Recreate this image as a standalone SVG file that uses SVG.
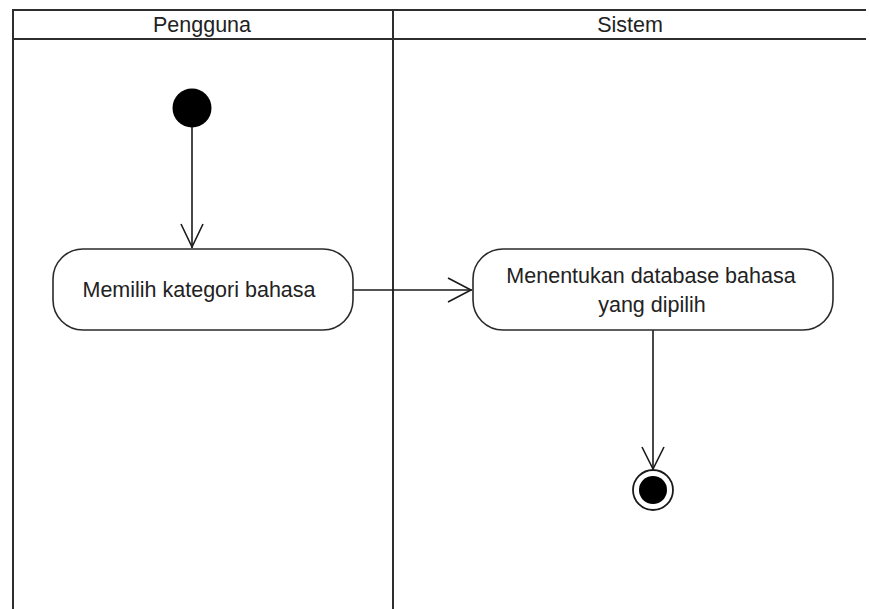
<svg xmlns="http://www.w3.org/2000/svg" width="870" height="609" viewBox="0 0 870 609">
  <style>
    .lane { fill: none; stroke: #2e2e2e; stroke-width: 2; }
    .action { fill: #ffffff; stroke: #2a2a2a; stroke-width: 1.6; }
    .label { font-family: "Liberation Sans", Arial, sans-serif; font-size: 21.5px; fill: #222222; text-anchor: middle; }
    .flow { fill: none; stroke: #1a1a1a; stroke-width: 1.6; }
    .head { fill: none; stroke: #1a1a1a; stroke-width: 1.6; stroke-linejoin: miter; }
  </style>
  <rect x="0" y="0" width="870" height="609" fill="#ffffff"/>

  <!-- swimlane frame -->
  <g id="swimlanes">
    <line class="lane" x1="13" y1="10" x2="866" y2="10"/>
    <line class="lane" x1="13" y1="39" x2="866" y2="39"/>
    <line class="lane" x1="13" y1="9" x2="13" y2="609"/>
    <line class="lane" x1="393" y1="10" x2="393" y2="609"/>
    <text class="label" x="202" y="32">Pengguna</text>
    <text class="label" x="630" y="32">Sistem</text>
  </g>

  <!-- connectors -->
  <g id="connectors">
    <line class="flow" x1="192" y1="127" x2="192" y2="248"/>
    <polyline class="head" points="181,224 192,247 203,224"/>
    <line class="flow" x1="353" y1="290" x2="472" y2="290"/>
    <polyline class="head" points="448,278 471,290 448,302"/>
    <line class="flow" x1="653" y1="330" x2="653" y2="469"/>
    <polyline class="head" points="642,447 653,469 664,447"/>
  </g>

  <g id="start">
    <circle cx="192" cy="108" r="19.5" fill="#000000"/>
  </g>

  <g id="memilih-kategori">
    <rect class="action" x="53" y="249" width="300" height="81" rx="30" ry="30"/>
    <text class="label" x="199" y="297">Memilih kategori bahasa</text>
  </g>

  <g id="menentukan-database">
    <rect class="action" x="473" y="249" width="360" height="81" rx="30" ry="30"/>
    <text class="label" x="651" y="283">Menentukan database bahasa</text>
    <text class="label" x="652" y="312">yang dipilih</text>
  </g>

  <g id="end">
    <circle cx="653" cy="490" r="20" fill="#ffffff" stroke="#1a1a1a" stroke-width="1.8"/>
    <circle cx="653" cy="490" r="14" fill="#000000"/>
  </g>
</svg>
